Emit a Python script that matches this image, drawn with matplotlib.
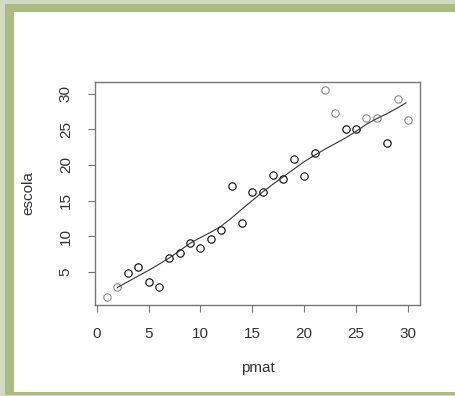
import matplotlib
matplotlib.use("Agg")
import matplotlib.pyplot as plt
from matplotlib.patches import Rectangle

plt.rcParams['font.family'] = ['Liberation Sans', 'DejaVu Sans']

# data
pmat = list(range(1, 31))
escola = [1.5, 2.8, 4.8, 5.7, 3.6, 2.9, 7.0, 7.6, 9.0, 8.3,
          9.6, 10.9, 17.0, 11.9, 16.2, 16.2, 18.6, 18.0, 20.8, 18.4,
          21.6, 30.5, 27.3, 25.0, 25.0, 26.6, 26.6, 23.1, 29.2, 26.3]
# points that look washed out in the reference
faded = [1, 2, 22, 23, 26, 27, 29, 30]

# smooth (lowess) line
fit_x = [2, 3, 4, 5, 6, 7, 8, 9, 10, 11, 12, 13, 14, 15, 16, 17, 18,
         19, 20, 21, 22, 23, 24, 25, 26, 27, 28, 29, 29.8]
fit_y = [2.8, 3.6, 4.4, 5.2, 6.05, 6.95, 7.95, 9.0, 9.8, 10.55, 11.4, 12.55,
         13.8, 15.0, 16.2, 17.3, 18.35, 19.4, 20.45, 21.35, 22.2, 23.0,
         23.8, 24.7, 25.7, 26.5, 27.2, 28.0, 28.7]

W, H = 456, 396
fig = plt.figure(figsize=(W / 100, H / 100), dpi=100)

# green picture frame
def px_rect(x0, y0, x1, y1, color):
    fig.add_artist(Rectangle((x0 / W, 1 - y1 / H), (x1 - x0) / W, (y1 - y0) / H,
                             transform=fig.transFigure, facecolor=color,
                             edgecolor='none', zorder=-10))

px_rect(0, 0, W, H, '#d3dac4')
px_rect(5, 4, W, H - 1, '#a9bb82')
px_rect(14, 12, W, H - 4, '#fbfdf7')
px_rect(16, 14, W, H - 7, 'white')

ax = fig.add_axes([95 / W, 1 - 305 / H, (420 - 95) / W, (305 - 82) / H])

gray = [i for i in range(len(pmat)) if pmat[i] in faded]
dark = [i for i in range(len(pmat)) if pmat[i] not in faded]
ax.plot([pmat[i] for i in dark], [escola[i] for i in dark], 'o',
        mfc='none', mec='black', ms=5.3, mew=0.8)
ax.plot([pmat[i] for i in gray], [escola[i] for i in gray], 'o',
        mfc='none', mec='#8a8a8a', ms=5.3, mew=0.8)
ax.plot(fit_x, fit_y, color='#333333', lw=0.8)

ax.set_xlim(-0.16, 31.16)
ax.set_ylim(0.34, 31.63)
ax.set_xticks([0, 5, 10, 15, 20, 25, 30])
ax.set_yticks([5, 10, 15, 20, 25, 30])
for s in ax.spines.values():
    s.set_color('#777777')
    s.set_linewidth(1.0)
ax.tick_params(direction='out', length=5, width=0.8, color='#777777',
               labelcolor='#333333', labelsize=11)
ax.tick_params(axis='x', pad=11)
ax.tick_params(axis='y', pad=11)
for lab in ax.get_yticklabels():
    lab.set_rotation(90)
    lab.set_va('center')

ax.set_xlabel('pmat', fontsize=11, color='#333333', labelpad=14)
ax.set_ylabel('escola', fontsize=11, color='#333333', labelpad=17)

fig.savefig('out.png', dpi=100)
